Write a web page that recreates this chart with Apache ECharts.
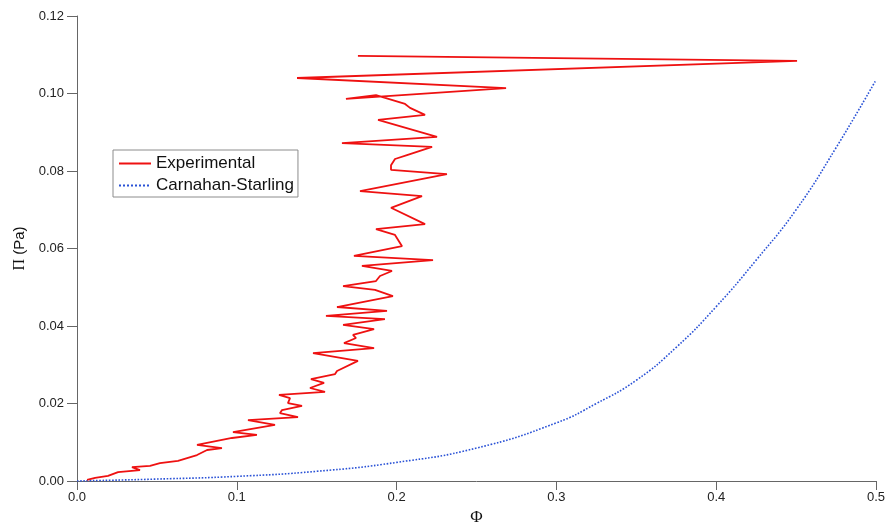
<!DOCTYPE html>
<html>
<head>
<meta charset="utf-8">
<script src="https://cdn.jsdelivr.net/npm/echarts@6/dist/echarts.min.js"></script>
<style>
  html, body { margin: 0; padding: 0; background: #fff; }
  #chart { width: 888px; height: 527px; }
</style>
</head>
<body>
<div id="chart"></div>
<script>
// Measured osmotic pressure vs. volume fraction (ordered as recorded)
const expPhi = [0.0063, 0.0113, 0.0194, 0.0257, 0.0394, 0.0344, 0.0457, 0.0519, 0.0632, 0.0751,
  0.0814, 0.0907, 0.0751, 0.0970, 0.1126, 0.0976, 0.1239, 0.1070, 0.1383, 0.1270,
  0.1283, 0.1408, 0.1320, 0.1333, 0.1264, 0.1552, 0.1458, 0.1546, 0.1464, 0.1615,
  0.1627, 0.1758, 0.1477, 0.1859, 0.1671, 0.1746, 0.1727, 0.1859, 0.1665, 0.1927,
  0.1558, 0.1940, 0.1627, 0.1977, 0.1865, 0.1665, 0.1871, 0.1896, 0.1971, 0.1783,
  0.2228, 0.1733, 0.2034, 0.1990, 0.1871, 0.2178, 0.1965, 0.2159, 0.1771, 0.2315,
  0.1965, 0.1965, 0.1990, 0.2065, 0.2222, 0.1658, 0.2253, 0.1884, 0.2178, 0.2084,
  0.2053, 0.1871, 0.1683, 0.2685, 0.1377, 0.4506, 0.1758];
const expPi = [0.0003, 0.0008, 0.0013, 0.0023, 0.0028, 0.0036, 0.0039, 0.0046, 0.0052, 0.0067,
  0.0080, 0.0085, 0.0093, 0.0111, 0.0119, 0.0126, 0.0145, 0.0157, 0.0165, 0.0175,
  0.0183, 0.0194, 0.0201, 0.0214, 0.0222, 0.0230, 0.0240, 0.0253, 0.0263, 0.0276,
  0.0284, 0.0310, 0.0330, 0.0343, 0.0356, 0.0369, 0.0377, 0.0392, 0.0403, 0.0418,
  0.0426, 0.0439, 0.0449, 0.0477, 0.0493, 0.0503, 0.0516, 0.0529, 0.0542, 0.0555,
  0.0570, 0.0581, 0.0606, 0.0635, 0.0650, 0.0663, 0.0705, 0.0735, 0.0748, 0.0792,
  0.0803, 0.0815, 0.0831, 0.0841, 0.0862, 0.0872, 0.0888, 0.0932, 0.0945, 0.0963,
  0.0973, 0.0996, 0.0986, 0.1014, 0.1040, 0.1084, 0.1097];

// Carnahan-Starling prediction, sampled along the curve
const csPhi = [0, 0.05, 0.1, 0.15, 0.2, 0.25, 0.3, 0.325, 0.35, 0.375, 0.4, 0.425, 0.45, 0.475, 0.5];
const csPi  = [0, 0.0005, 0.0012, 0.0025, 0.0048, 0.0085, 0.0150, 0.0200, 0.0260, 0.0345, 0.0450, 0.0570, 0.0700, 0.0860, 0.1035];

const zip = (a, b) => a.map((v, i) => [v, b[i]]);

const chart = echarts.init(document.getElementById('chart'), null, { renderer: 'canvas' });
chart.setOption({
  backgroundColor: '#ffffff',
  animation: false,
  grid: { left: 77, right: 12, top: 16, bottom: 46, containLabel: false, outerBoundsMode: 'none' },
  legend: {
    show: true,
    left: 113, top: 150,
    orient: 'vertical',
    itemWidth: 32, itemHeight: 12, itemGap: 5,
    padding: [5, 4, 3, 5],
    borderColor: '#8c8c8c', borderWidth: 1,
    backgroundColor: '#fff',
    itemStyle: { opacity: 0 },
    textStyle: { fontFamily: 'Liberation Sans, Arial, sans-serif', fontSize: 17, color: '#111' },
    data: ['Experimental', 'Carnahan-Starling']
  },
  xAxis: {
    type: 'value', min: 0, max: 0.5, interval: 0.1,
    name: 'Φ', nameLocation: 'middle', nameGap: 28,
    nameTextStyle: { fontFamily: 'Liberation Serif, Times New Roman, serif', fontSize: 17, color: '#111' },
    axisLine: { show: true, onZero: false, lineStyle: { color: '#666', width: 1 } },
    axisTick: { show: true, inside: false, length: 9, lineStyle: { color: '#666' } },
    axisLabel: { color: '#222', fontSize: 13, margin: 10,
      fontFamily: 'Liberation Sans Narrow, Arial Narrow, Liberation Sans, sans-serif',
      formatter: v => v.toFixed(1) },
    splitLine: { show: false }
  },
  yAxis: {
    type: 'value', min: 0, max: 0.12, interval: 0.02,
    name: '{pi|Π} (Pa)', nameLocation: 'middle', nameGap: 47,
    nameTextStyle: { fontFamily: 'Liberation Sans, Arial, sans-serif', fontSize: 15, color: '#111',
      rich: { pi: { fontFamily: 'Liberation Serif, Times New Roman, serif', fontSize: 16, color: '#111' } } },
    axisLine: { show: true, onZero: false, lineStyle: { color: '#666', width: 1 } },
    axisTick: { show: true, inside: false, length: 10, lineStyle: { color: '#666' } },
    axisLabel: { color: '#222', fontSize: 13, margin: 13,
      fontFamily: 'Liberation Sans, Arial, sans-serif',
      formatter: v => v.toFixed(2) },
    splitLine: { show: false }
  },
  series: [
    {
      name: 'Experimental', type: 'line', data: zip(expPhi, expPi),
      symbol: 'none', smooth: false,
      itemStyle: { color: '#ee1111' },
      lineStyle: { color: '#ee1111', width: 1.8 },
      z: 3
    },
    {
      name: 'Carnahan-Starling', type: 'line', data: zip(csPhi, csPi),
      symbol: 'none', smooth: true,
      itemStyle: { color: '#2a52d6' },
      lineStyle: { color: '#2a52d6', width: 1.6, type: 'dotted' },
      z: 2
    }
  ]
});
</script>
</body>
</html>
